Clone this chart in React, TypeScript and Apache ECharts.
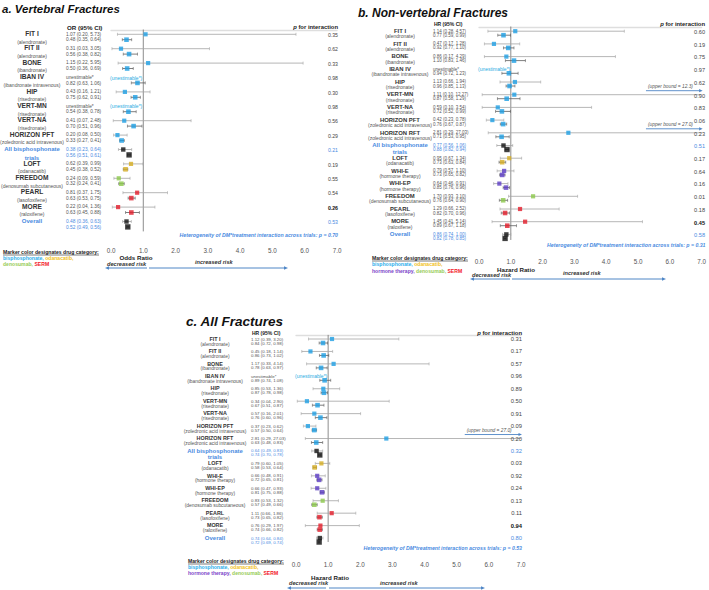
import React, { useEffect, useRef } from "react";
import * as echarts from "echarts";

type CI = [number, number, number] | null;

// ---------- Panel a: Vertebral fractures (odds ratio) ----------
const trialsA = ["FIT I", "FIT II", "BONE", "IBAN IV", "HIP", "VERT-MN", "VERT-NA", "HORIZON PFT", "All bisphosphonate trials", "LOFT", "FREEDOM", "PEARL", "MORE", "Overall"];
const drugsA = ["alendronate", "alendronate", "ibandronate", "ibandronate intravenous", "risedronate", "risedronate", "risedronate", "zoledronic acid intravenous", "", "odanacatib", "denosumab subcutaneous", "lasofoxifene", "raloxifene", ""];
const catsA = ["bis", "bis", "bis", "bis", "bis", "bis", "bis", "bis", "sum", "odan", "deno", "serm", "serm", "sum"];
const dmA: CI[] = [[1.07, 0.20, 5.73], [0.31, 0.03, 3.05], [1.15, 0.22, 5.95], null, [0.43, 0.16, 1.21], null, [0.41, 0.07, 2.48], [0.20, 0.08, 0.50], [0.38, 0.23, 0.64], [0.62, 0.39, 0.99], [0.24, 0.09, 0.59], [0.81, 0.37, 1.75], [0.22, 0.04, 1.36], [0.48, 0.36, 0.63]];
const noDmA: CI[] = [[0.48, 0.35, 0.64], [0.56, 0.38, 0.82], [0.50, 0.36, 0.69], [0.82, 0.63, 1.06], [0.75, 0.62, 0.91], [0.54, 0.38, 0.78], [0.70, 0.51, 0.96], [0.33, 0.27, 0.41], [0.56, 0.51, 0.61], [0.45, 0.38, 0.52], [0.32, 0.24, 0.41], [0.63, 0.53, 0.75], [0.63, 0.45, 0.88], [0.52, 0.49, 0.56]];
const pA = ["0.35", "0.62", "0.33", "0.98", "0.30", "0.98", "0.56", "0.29", "0.21", "0.19", "0.55", "0.54", "0.26", "0.53"];
const hetA = "0.70";

// ---------- Panel b: Non-vertebral fractures (hazard ratio) ----------
const trialsB = ["FIT I", "FIT II", "BONE", "IBAN IV", "HIP", "VERT-MN", "VERT-NA", "HORIZON PFT", "HORIZON RFT", "All bisphosphonate trials", "LOFT", "WHI-E", "WHI-EP", "FREEDOM", "PEARL", "MORE", "Overall"];
const drugsB = ["alendronate", "alendronate", "ibandronate", "ibandronate intravenous", "risedronate", "risedronate", "risedronate", "zoledronic acid intravenous", "zoledronic acid intravenous", "", "odanacatib", "hormone therapy", "hormone therapy", "denosumab subcutaneous", "lasofoxifene", "raloxifene", ""];
const catsB = ["bis", "bis", "bis", "bis", "bis", "bis", "bis", "bis", "bis", "sum", "odan", "hrt", "hrt", "deno", "serm", "serm", "sum"];
const dmB: CI[] = [[1.14, 0.28, 4.57], [0.47, 0.17, 1.28], [0.86, 0.17, 4.29], null, [1.13, 0.66, 1.94], [1.11, 0.10, 12.27], [0.59, 0.10, 3.54], [0.42, 0.23, 0.78], [2.81, 0.29, 27.03], [0.77, 0.56, 1.06], [0.95, 0.67, 1.34], [0.79, 0.57, 1.10], [0.64, 0.46, 0.91], [1.70, 0.93, 3.10], [1.29, 0.66, 2.52], [1.45, 0.41, 5.14], [0.86, 0.74, 1.00]];
const noDmB: CI[] = [[0.77, 0.59, 0.99], [0.92, 0.77, 1.10], [1.10, 0.83, 1.46], [0.94, 0.72, 1.23], [0.96, 0.85, 1.13], [0.87, 0.58, 1.29], [0.72, 0.52, 0.99], [0.76, 0.67, 0.87], [0.71, 0.53, 0.95], [0.88, 0.82, 0.94], [0.73, 0.63, 0.84], [0.73, 0.65, 0.82], [0.85, 0.76, 0.96], [0.76, 0.64, 0.90], [0.82, 0.70, 0.96], [0.89, 0.67, 1.18], [0.82, 0.78, 0.85]];
const pB = ["0.60", "0.19", "0.75", "0.97", "0.62", "0.90", "0.83", "0.06", "0.23", "0.51", "0.17", "0.64", "0.16", "0.01", "0.18", "0.45", "0.58"];
const hetB = "0.31";

// ---------- Panel c: All fractures (hazard ratio) ----------
const trialsC = trialsB;
const drugsC = drugsB;
const catsC = catsB;
const dmC: CI[] = [[1.12, 0.39, 3.20], [0.45, 0.18, 1.14], [1.17, 0.33, 4.14], null, [0.85, 0.53, 1.36], [0.34, 0.04, 2.90], [0.57, 0.16, 2.01], [0.37, 0.23, 0.62], [2.81, 0.29, 27.03], [0.64, 0.49, 0.83], [0.79, 0.60, 1.05], [0.66, 0.48, 0.91], [0.66, 0.47, 0.93], [0.83, 0.53, 1.32], [1.11, 0.66, 1.86], [0.76, 0.29, 1.97], [0.74, 0.64, 0.84]];
const noDmC: CI[] = [[0.84, 0.72, 0.98], [0.86, 0.73, 1.02], [0.78, 0.63, 0.97], [0.89, 0.74, 1.08], [0.87, 0.78, 0.98], [0.67, 0.51, 0.87], [0.76, 0.60, 0.96], [0.57, 0.50, 0.64], [0.63, 0.48, 0.83], [0.74, 0.70, 0.78], [0.58, 0.53, 0.64], [0.72, 0.65, 0.81], [0.81, 0.75, 0.88], [0.57, 0.49, 0.66], [0.73, 0.65, 0.82], [0.74, 0.66, 0.82], [0.72, 0.69, 0.74]];
const pC = ["0.31", "0.17", "0.57", "0.96", "0.89", "0.50", "0.91", "0.09", "0.20", "0.32", "0.03", "0.92", "0.24", "0.13", "0.11", "0.94", "0.80"];
const hetC = "0.53";

const xTicks = [0, 1, 2, 3, 4, 5, 6, 7];

const FF = '"Liberation Sans", Arial, Helvetica, sans-serif';
const BLUE = "#4A8BDF";
const ARROW_BLUE = "#4F86C6";
const CAT_COLORS: Record<string, string> = {
  bis: "#1E9FE3",
  odan: "#D6AE22",
  deno: "#8CC84B",
  serm: "#E21D2B",
  hrt: "#5B3CC4",
  sum: "#111111",
};
const LEG_COLORS: Record<string, string> = {
  bis: "#2AAEEB",
  odan: "#F2C11C",
  hrt: "#7A3FC8",
  deno: "#96CC55",
  serm: "#F2171F",
};

interface PanelData {
  trials: string[]; drugs: string[]; cats: string[]; dm: CI[]; nodm: CI[]; p: string[]; het: string;
}
interface Layout {
  x0: number; x7: number; c0: number; dy: number; axisY: number; refStart: number; refEnd: number;
  labelCX: number; ciX: number; headerY: number; pRight: number;
  nameOff: number; drugOff: number; ciOffs: [number, number]; markTop: number; markBot: number; pOff: number;
  nameSize: number; drugSize: number; ciSize: number; pSize: number; headerSize: number; sumSize: number;
  title: string; titleX: number; titleY: number; titleSize: number;
  headerLabel: string; axisName: string; axisNameX: number; axisNameY: number;
  hetY: number; decX: number; decY: number; incX: number; incY: number; arrowY: number;
  arrowL: [number, number]; arrowR: [number, number];
  legendX: number; legendY: number; legendDy: number; hormone: boolean;
  ubText: number; ubArrow: number; tickMargin: number;
}

const layA: Layout = {
  x0: 111, x7: 337, c0: 37, dy: 14.4, axisY: 243, refStart: -0.1, refEnd: 14.0,
  labelCX: 32, ciX: 66, headerY: 27, pRight: 338,
  nameOff: -3.5, drugOff: 4.5, ciOffs: [-3, 2.8], markTop: -2.7, markBot: 2.7, pOff: -2,
  nameSize: 6.6, drugSize: 5, ciSize: 4.8, pSize: 5.2, headerSize: 6.2, sumSize: 6,
  title: "a. Vertebral Fractures", titleX: 2, titleY: 9, titleSize: 11.5,
  headerLabel: "OR (95% CI)", axisName: "Odds Ratio", axisNameX: 136, axisNameY: 257.5,
  hetY: 235, decX: 107, decY: 263.5, incX: 195, incY: 262, arrowY: 268,
  arrowL: [147, 108], arrowR: [149, 285],
  legendX: 3, legendY: 252, legendDy: 6, hormone: false, ubText: -8, ubArrow: -4, tickMargin: 4.5,
};
const layB: Layout = {
  x0: 479, x7: 704.5, c0: 33.2, dy: 12.7, axisY: 255, refStart: -0.15, refEnd: 16.78,
  labelCX: 400, ciX: 433, headerY: 23.5, pRight: 705,
  nameOff: -2.3, drugOff: 3, ciOffs: [-2.2, 2], markTop: -2, markBot: 2, pOff: -1.2,
  nameSize: 5.9, drugSize: 5, ciSize: 4.5, pSize: 5.6, headerSize: 5, sumSize: 6,
  title: "b. Non-vertebral Fractures", titleX: 358, titleY: 13, titleSize: 12,
  headerLabel: "HR (95% CI)", axisName: "Hazard Ratio", axisNameX: 516, axisNameY: 269,
  hetY: 245, decX: 472, decY: 274.5, incX: 563, incY: 273, arrowY: 279,
  arrowL: [510, 473], arrowR: [512, 663],
  legendX: 372, legendY: 258, legendDy: 6.3, hormone: true, ubText: -8, ubArrow: -4, tickMargin: 3.8,
};
const layC: Layout = {
  x0: 296, x7: 521, c0: 341, dy: 12.44, axisY: 557, refStart: 0, refEnd: 16.66,
  labelCX: 215, ciX: 251, headerY: 332.5, pRight: 522,
  nameOff: -2.3, drugOff: 3, ciOffs: [-2, 2], markTop: -2, markBot: 2, pOff: -2,
  nameSize: 5.4, drugSize: 4.9, ciSize: 4.4, pSize: 5.8, headerSize: 5, sumSize: 6,
  title: "c. All Fractures", titleX: 186, titleY: 321, titleSize: 13.5,
  headerLabel: "HR (95% CI)", axisName: "Hazard Ratio", axisNameX: 330, axisNameY: 577,
  hetY: 548, decX: 289, decY: 582.5, incX: 380, incY: 583, arrowY: 588,
  arrowL: [326, 290], arrowR: [329, 482],
  legendX: 188, legendY: 561, legendDy: 6, hormone: true, ubText: -8, ubArrow: -4, tickMargin: 4,
};

function txt(x: number, y: number, text: string, o: any) {
  const align = o.align ?? "left";
  return {
    type: "text", x, y, silent: true, z: 10,
    style: {
      text, fill: o.color ?? "#333", fontSize: o.size, fontFamily: FF,
      fontWeight: o.weight ?? "normal", fontStyle: o.style ?? "normal",
      align, verticalAlign: "middle", textAlign: align, textVerticalAlign: "middle",
      rich: o.rich,
    },
  };
}
function richStyle(color: string, size: number, weight = "bold", style = "normal") {
  return { fill: color, color, fontSize: size, fontFamily: FF, fontWeight: weight, fontStyle: style };
}
function arrow(x1: number, x2: number, y: number, color: string) {
  const d = x2 > x1 ? 1 : -1;
  return [
    { type: "line", silent: true, z: 5, shape: { x1, y1: y, x2, y2: y }, style: { stroke: color, lineWidth: 1 } },
    { type: "polygon", silent: true, z: 5, shape: { points: [[x2 + d * 3, y], [x2 - d * 1, y - 1.8], [x2 - d * 1, y + 1.8]] }, style: { fill: color } },
  ];
}
const fmt = (r: [number, number, number]) => `${r[0].toFixed(2)} (${r[1].toFixed(2)}, ${r[2].toFixed(2)})`;

function buildPanel(d: PanelData, L: Layout, idx: number, out: any) {
  const gridTop = L.c0 - L.dy / 2;
  const ymax = (L.axisY - gridTop) / L.dy;
  out.grid.push({ left: L.x0, top: gridTop, width: L.x7 - L.x0, height: L.axisY - gridTop });
  out.xAxis.push({
    gridIndex: idx, type: "value", min: xTicks[0], max: xTicks[xTicks.length - 1], interval: 1,
    axisLine: { show: true, lineStyle: { color: "#dedede", width: 1.3 } },
    axisTick: { show: false }, splitLine: { show: false },
    axisLabel: { formatter: (v: number) => v.toFixed(1), color: "#555", fontSize: 6.3, fontFamily: FF, margin: L.tickMargin },
  });
  out.yAxis.push({ gridIndex: idx, type: "value", inverse: true, min: 0, max: ymax, show: false });

  const tOff = L.markTop / L.dy, bOff = L.markBot / L.dy;

  // reference line at 1
  out.series.push({
    type: "line", xAxisIndex: idx, yAxisIndex: idx, silent: true, z: 1, symbol: "none",
    data: [[1, L.refStart], [1, L.refEnd]], lineStyle: { color: "#707070", width: 0.8 },
  });

  const ciSeries = (rows: CI[], off: number, isTop: boolean) => ({
    type: "custom", xAxisIndex: idx, yAxisIndex: idx, silent: true, z: 2,
    data: rows.map((r, i) => (r ? [r[1], r[2], i + 0.5 + off] : null)).filter(Boolean),
    encode: { x: [0, 1], y: 2 },
    renderItem: (_p: any, api: any) => {
      const lo = api.value(0) as number, hi = api.value(1) as number, y = api.value(2) as number;
      const clipped = hi > 7;
      const a = api.coord([lo, y]);
      const b = api.coord([clipped ? 7 : hi, y]);
      const col = isTop ? "#a3a3a3" : "#5c5c5c";
      const ch = 1.5;
      const children: any[] = [
        { type: "line", shape: { x1: a[0], y1: a[1], x2: b[0], y2: b[1] }, style: { stroke: col, lineWidth: 0.8 } },
        { type: "line", shape: { x1: a[0], y1: a[1] - ch, x2: a[0], y2: a[1] + ch }, style: { stroke: col, lineWidth: 0.6 } },
      ];
      if (!clipped) {
        children.push({ type: "line", shape: { x1: b[0], y1: b[1] - ch, x2: b[0], y2: b[1] + ch }, style: { stroke: col, lineWidth: 0.6 } });
      } else {
        const s = api.coord([5.25, y]);
        const ay = b[1] + L.ubArrow;
        children.push({ type: "line", shape: { x1: s[0], y1: ay, x2: b[0] - 2, y2: ay }, style: { stroke: ARROW_BLUE, lineWidth: 0.9 } });
        children.push({ type: "polygon", shape: { points: [[b[0] + 1, ay], [b[0] - 2.5, ay - 1.6], [b[0] - 2.5, ay + 1.6]] }, style: { fill: ARROW_BLUE } });
        children.push({
          type: "text", x: s[0] + 2, y: b[1] + L.ubText,
          style: { text: `(upper bound = ${hi.toFixed(1)})`, fill: "#555", fontSize: 4.8, fontFamily: FF, fontStyle: "italic", align: "left", verticalAlign: "middle" },
        });
      }
      return { type: "group", children };
    },
  });
  out.series.push(ciSeries(d.dm, tOff, true));
  out.series.push(ciSeries(d.nodm, bOff, false));

  // unestimable labels
  out.series.push({
    type: "custom", xAxisIndex: idx, yAxisIndex: idx, silent: true, z: 3,
    data: d.dm.map((r, i) => (r ? null : [0, i + 0.5 + tOff])).filter(Boolean),
    encode: { x: 0, y: 1 },
    renderItem: (_p: any, api: any) => {
      const c = api.coord([api.value(0), api.value(1)]);
      return {
        type: "text", x: c[0] - 1, y: c[1],
        style: { text: "(unestimable*)", fill: "#29ABE2", fontSize: 5, fontFamily: FF, align: "left", verticalAlign: "middle" },
      };
    },
  });

  const pts = (rows: CI[], off: number, size: number, sumSize: number) => ({
    type: "scatter", xAxisIndex: idx, yAxisIndex: idx, silent: true, z: 4, symbol: "rect",
    data: rows
      .map((r, i) =>
        r ? { value: [r[0], i + 0.5 + off], symbolSize: d.cats[i] === "sum" ? sumSize : size, itemStyle: { color: CAT_COLORS[d.cats[i]] } } : null
      )
      .filter(Boolean),
  });
  out.series.push(pts(d.dm, tOff, 4.2, 4.4));
  out.series.push(pts(d.nodm, bOff, 4.6, 5.4));

  const g = out.graphic;
  // title & headers
  g.push(txt(L.titleX, L.titleY, L.title, { size: L.titleSize, weight: "bold", style: "italic", color: "#111" }));
  g.push(txt(L.ciX + 1, L.headerY, L.headerLabel, { size: L.headerSize, weight: "bold", color: "#222" }));
  g.push(
    txt(L.pRight, L.headerY, "{i|p}{n| for interaction}", {
      size: 5.9, weight: "bold", color: "#222", align: "right",
      rich: { i: richStyle("#222", 5.9, "bold", "italic"), n: richStyle("#222", 5.9, "bold") },
    })
  );

  d.trials.forEach((name, i) => {
    const cy = L.c0 + i * L.dy;
    const isSum = d.cats[i] === "sum";
    if (isSum) {
      if (name === "All bisphosphonate trials") {
        g.push(txt(L.labelCX, cy + L.nameOff, "All bisphosphonate", { size: L.sumSize, weight: "bold", color: BLUE, align: "center" }));
        g.push(txt(L.labelCX, cy + L.drugOff + 1, "trials", { size: L.sumSize, weight: "bold", color: BLUE, align: "center" }));
      } else {
        g.push(txt(L.labelCX, cy + L.nameOff, name, { size: L.sumSize, weight: "bold", color: BLUE, align: "center" }));
      }
    } else {
      g.push(txt(L.labelCX, cy + L.nameOff, name, { size: L.nameSize, weight: "bold", color: "#333", align: "center" }));
      g.push(txt(L.labelCX, cy + L.drugOff, `(${d.drugs[i]})`, { size: L.drugSize, color: "#555", align: "center" }));
    }
    const ciCol = isSum ? BLUE : "#555";
    const top = d.dm[i];
    const bot = d.nodm[i];
    g.push(txt(L.ciX, cy + L.ciOffs[0], top ? fmt(top) : "unestimable*", { size: L.ciSize, color: ciCol }));
    if (bot) g.push(txt(L.ciX, cy + L.ciOffs[1], fmt(bot), { size: L.ciSize, color: ciCol }));
    g.push(
      txt(L.pRight, cy + L.pOff, d.p[i], {
        size: L.pSize, color: isSum ? BLUE : name === "MORE" ? "#111" : "#444",
        weight: name === "MORE" ? "bold" : "normal", align: "right",
      })
    );
  });

  // heterogeneity
  g.push(
    txt(L.x7 + 1, L.hetY, `Heterogeneity of DM*treatment interaction across trials: p = ${d.het}`, {
      size: 5.2, weight: "bold", style: "italic", color: BLUE, align: "right",
    })
  );
  // axis name and risk arrows
  g.push(txt(L.axisNameX, L.axisNameY, L.axisName, { size: 6.2, weight: "bold", color: "#222", align: "center" }));
  g.push(txt(L.decX, L.decY, "decreased risk", { size: 5.6, weight: "bold", style: "italic", color: "#333" }));
  g.push(txt(L.incX, L.incY, "increased risk", { size: 5.6, weight: "bold", style: "italic", color: "#333" }));
  g.push(...arrow(L.arrowL[0], L.arrowL[1], L.arrowY, ARROW_BLUE));
  g.push(...arrow(L.arrowR[0], L.arrowR[1], L.arrowY, ARROW_BLUE));

  // legend
  const ls = 5.1;
  g.push(txt(L.legendX, L.legendY, "Marker color designates drug category:", { size: ls, weight: "bold", color: "#222" }));
  g.push({ type: "line", silent: true, z: 10, shape: { x1: L.legendX, y1: L.legendY + 3, x2: L.legendX + 96, y2: L.legendY + 3 }, style: { stroke: "#222", lineWidth: 0.6 } });
  g.push(
    txt(L.legendX, L.legendY + L.legendDy, "{b|bisphosphonate, }{o|odanacatib,}", {
      size: ls, weight: "bold", color: LEG_COLORS.bis,
      rich: { b: richStyle(LEG_COLORS.bis, ls), o: richStyle(LEG_COLORS.odan, ls) },
    })
  );
  const line3 = L.hormone ? "{h|hormone therapy, }{d|denosumab, }{s|SERM}" : "{d|denosumab, }{s|SERM}";
  g.push(
    txt(L.legendX, L.legendY + 2 * L.legendDy, line3, {
      size: ls, weight: "bold", color: LEG_COLORS.deno,
      rich: { h: richStyle(LEG_COLORS.hrt, ls), d: richStyle(LEG_COLORS.deno, ls), s: richStyle(LEG_COLORS.serm, ls) },
    })
  );
}

function buildOption() {
  const out: any = { grid: [], xAxis: [], yAxis: [], series: [], graphic: [] };
  buildPanel({ trials: trialsA, drugs: drugsA, cats: catsA, dm: dmA, nodm: noDmA, p: pA, het: hetA }, layA, 0, out);
  buildPanel({ trials: trialsB, drugs: drugsB, cats: catsB, dm: dmB, nodm: noDmB, p: pB, het: hetB }, layB, 1, out);
  buildPanel({ trials: trialsC, drugs: drugsC, cats: catsC, dm: dmC, nodm: noDmC, p: pC, het: hetC }, layC, 2, out);
  return {
    animation: false,
    backgroundColor: "#ffffff",
    grid: out.grid,
    xAxis: out.xAxis,
    yAxis: out.yAxis,
    series: out.series,
    graphic: { elements: out.graphic },
  };
}

export default function App() {
  const ref = useRef<HTMLDivElement>(null);
  useEffect(() => {
    if (!ref.current) return;
    const chart = echarts.init(ref.current, undefined, { renderer: "svg", width: 709, height: 590 });
    chart.setOption(buildOption() as any);
    return () => chart.dispose();
  }, []);
  return (
    <div
      ref={ref}
      style={{ position: "fixed", left: 0, top: 0, width: 709, height: 590, background: "#fff" }}
    />
  );
}
